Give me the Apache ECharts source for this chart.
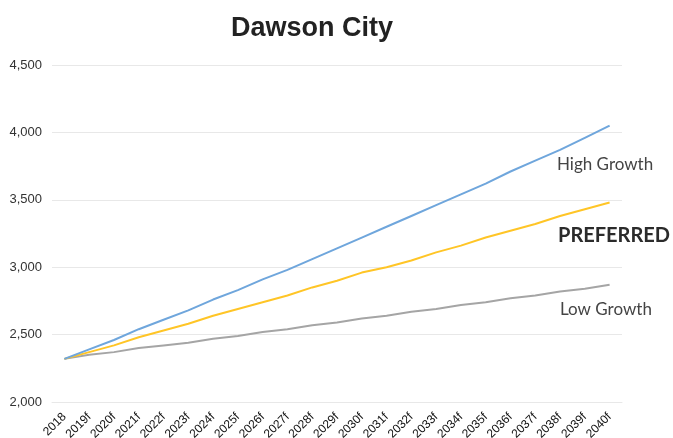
<!DOCTYPE html>
<html>
<head>
<meta charset="utf-8">
<script src="https://cdn.jsdelivr.net/npm/echarts@6/dist/echarts.min.js"></script>
<style>html,body{margin:0;padding:0;background:#fff}#c{width:673px;height:438px}</style>
</head>
<body>
<div id="c"></div>
<script>
var categories = ['2018','2019f','2020f','2021f','2022f','2023f','2024f','2025f','2026f','2027f','2028f','2029f','2030f','2031f','2032f','2033f','2034f','2035f','2036f','2037f','2038f','2039f','2040f'];
var highGrowth = [2320,2390,2460,2540,2610,2680,2760,2830,2910,2980,3060,3140,3220,3300,3380,3460,3540,3620,3710,3790,3870,3960,4050];
var preferred = [2320,2370,2420,2480,2530,2580,2640,2690,2740,2790,2850,2900,2960,3000,3050,3110,3160,3220,3270,3320,3380,3430,3480];
var lowGrowth = [2320,2350,2370,2400,2420,2440,2470,2490,2520,2540,2570,2590,2620,2640,2670,2690,2720,2740,2770,2790,2820,2840,2870];
var yTicks = {min: 2000, max: 4500, interval: 500};

var chart = echarts.init(document.getElementById('c'));
function line(name, data, color) {
  return {name: name, type: 'line', data: data, symbol: 'none', smooth: false,
    lineStyle: {color: color, width: 2}, itemStyle: {color: color}};
}
chart.setOption({
  animation: false,
  title: {text: 'Dawson City', top: 10, left: 226,
    textStyle: {fontFamily: 'Liberation Sans, Arial', fontWeight: 'bold', fontSize: 27, color: '#222'}},
  grid: {left: 52, right: 51, top: 65, bottom: 36, containLabel: false, outerBoundsMode: 'none'},
  xAxis: {type: 'category', data: categories, boundaryGap: true,
    axisLine: {show: true, lineStyle: {color: '#e8e8e8'}}, axisTick: {show: false},
    axisLabel: {rotate: 45, fontSize: 12, color: '#111', fontFamily: 'Liberation Sans, Arial', margin: 13, interval: 0}},
  yAxis: {type: 'value', min: yTicks.min, max: yTicks.max, interval: yTicks.interval,
    axisLine: {show: false}, axisTick: {show: false},
    splitLine: {lineStyle: {color: '#e8e8e8'}},
    axisLabel: {fontSize: 13, color: '#333', fontFamily: 'Liberation Sans, Arial', margin: 10,
      formatter: function (v) { return v.toLocaleString('en-US'); }}},
  series: [
    line('Low Growth', lowGrowth, '#a5a5a5'),
    line('PREFERRED', preferred, '#ffc526'),
    line('High Growth', highGrowth, '#6fa6dc')
  ],
  graphic: [
    {type: 'text', left: 557, top: 156, style: {text: 'High Growth', fontFamily: 'Lato', fontSize: 17, fill: '#444'}},
    {type: 'text', left: 558, top: 226, style: {text: 'PREFERRED', fontFamily: 'Lato', fontWeight: 'bold', fontSize: 20, fill: '#2b2b2b'}},
    {type: 'text', left: 560, top: 301, style: {text: 'Low Growth', fontFamily: 'Lato', fontSize: 17, fill: '#444'}}
  ]
});
</script>
</body>
</html>
